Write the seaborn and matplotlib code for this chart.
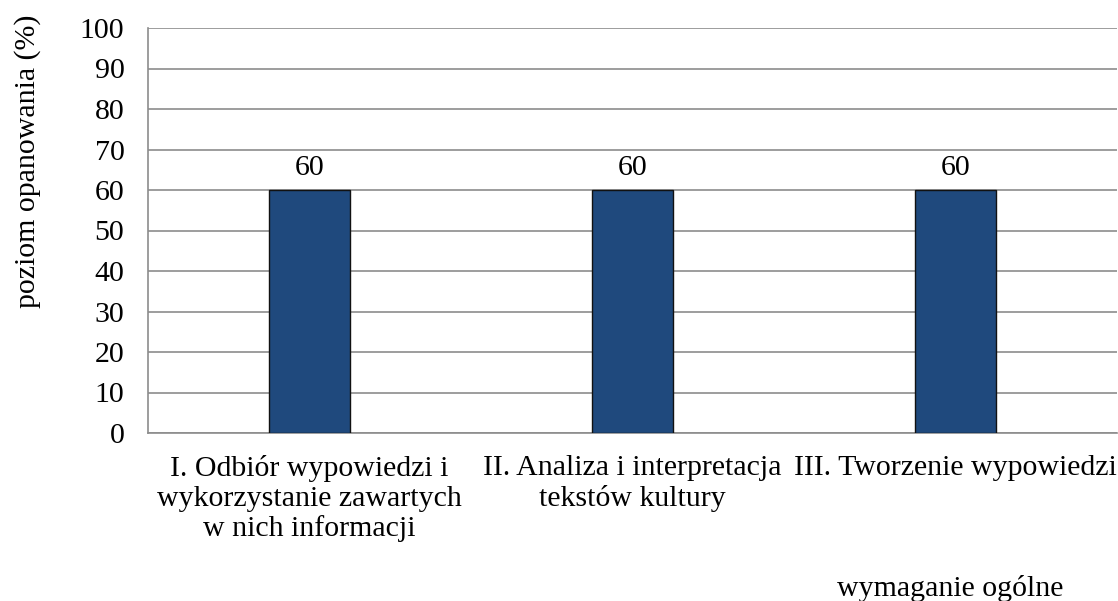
import matplotlib
matplotlib.use("Agg")
import matplotlib.pyplot as plt
import seaborn as sns
import pandas as pd

# dane
kategorie = ["I. Odbiór wypowiedzi i\nwykorzystanie zawartych\nw nich informacji",
             "II. Analiza i interpretacja\ntekstów kultury",
             "III. Tworzenie wypowiedzi"]
wartosci = [60, 60, 60]
y_ticks = list(range(0, 101, 10))

df = pd.DataFrame({"wymaganie": kategorie, "poziom": wartosci})

sns.set_style("white")
plt.rcParams["font.family"] = ["Liberation Serif", "DejaVu Serif"]
plt.rcParams["text.color"] = "black"
plt.rcParams["xtick.labelcolor"] = "black"
plt.rcParams["ytick.labelcolor"] = "black"
plt.rcParams["axes.labelcolor"] = "black"

grid_col = "#8c8c8c"
fs = 21.5

fig = plt.figure(figsize=(11.18, 6.01), dpi=100)
ax = fig.add_axes([148 / 1118, 168 / 601, 969 / 1118, 405 / 601])

sns.barplot(data=df, x="wymaganie", y="poziom", color="#1f497d",
            width=0.25, edgecolor="#111111", linewidth=1.0,
            saturation=1, ax=ax, zorder=3)

for i, v in enumerate(wartosci):
    ax.text(i, v + 2.2, str(v), ha="center", va="bottom", fontsize=fs)

ax.set_ylim(0, 100)
ax.set_xlim(-0.5, len(kategorie) - 0.5)
ax.set_yticks(y_ticks)
ax.yaxis.grid(True, color=grid_col, linewidth=1.2, zorder=0)
ax.set_axisbelow(True)

ax.set_xticks(range(len(kategorie)))
ax.set_xticklabels(kategorie, fontsize=fs, linespacing=1.17)
ax.set_xticks([i - 0.5 for i in range(len(kategorie) + 1)], minor=True)
ax.tick_params(axis="x", which="major", length=0, pad=16)
ax.tick_params(axis="x", which="minor", length=8, width=1.2, color=grid_col)
ax.tick_params(axis="y", length=8, width=1.2, color=grid_col, labelsize=fs, pad=9)

for s in ["top", "right"]:
    ax.spines[s].set_visible(False)
for s in ["left", "bottom"]:
    ax.spines[s].set_color(grid_col)
    ax.spines[s].set_linewidth(1.2)

ax.set_xlabel("")
ax.set_ylabel("")
# osie opisane jak w Excelu - poza srodkiem
fig.text(28 / 1118, 1 - 161 / 601, "poziom opanowania (%)", rotation=90,
         ha="center", va="center", fontsize=fs)
fig.text(950 / 1118, 1 - 588 / 601, "wymaganie ogólne", ha="center", va="center", fontsize=fs)

fig.savefig("out.png", dpi=100)
